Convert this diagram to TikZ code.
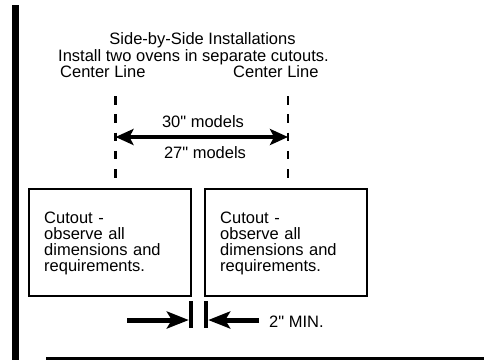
\documentclass[tikz,border=0pt]{standalone}
\usepackage{fontspec}
\setmainfont{Liberation Sans}[Ligatures=TeXOff]
\usetikzlibrary{arrows.meta}
\begin{document}
\begin{tikzpicture}[x=1pt,y=-1pt,
  txt/.style={font=\fontsize{16.5}{16}\selectfont, inner sep=0pt, anchor=base},
  boxtxt/.style={font=\fontsize{16.5}{16}\selectfont, inner sep=0pt, anchor=base west, align=left, text width=145pt},
  cutbox/.style={draw, line width=2.2pt},
  cline/.style={line width=2.6pt, dash pattern=on 8.5pt off 9.8pt},
  dimarrow/.style={line width=4pt, {Stealth[length=18pt,width=16pt,inset=4pt]}-{Stealth[length=18pt,width=16pt,inset=4pt]}},
  gaparrow/.style={line width=5pt, -{Stealth[length=22pt,width=17pt,inset=5pt]}},
  gapbar/.style={fill=black, inner sep=0pt, minimum width=4pt, minimum height=27pt},
  rule/.style={line width=2.6pt}]
\useasboundingbox (0,0) rectangle (484,360);
% frame rules
\draw[line width=7pt] (15.5,5) -- (15.5,360);
\coordinate (ruleA) at (46,358.7);
\coordinate (ruleB) at (484,358.7);
\draw[rule] (ruleA) -- (ruleB);
% titles
\node[txt] (title1) at (202.5,44) {Side-by-Side Installations};
\node[txt] (title2) at (193.5,61) {Install two ovens in separate cutouts.};
\node[txt, anchor=base west] (clabL) at (60,77) {Center Line};
\node[txt, anchor=base west] (clabR) at (233,77) {Center Line};
% center lines
\coordinate (clTL) at (115.5,96);
\coordinate (clBL) at (115.5,178);
\coordinate (clTR) at (288,96);
\coordinate (clBR) at (288,178);
\draw[cline] (clTL) -- (clBL);
\draw[cline] (clTR) -- (clBR);
\coordinate (dimL) at (115.5,137);
\coordinate (dimR) at (288,137);
\draw[dimarrow] (dimL) -- (dimR);
\node[txt] (m30) at (203,127) {30" models};
\node[txt] (m27) at (205,158) {27" models};
% cutout boxes
\draw[cutbox] (29,189) rectangle (191,296);
\draw[cutbox] (205,189) rectangle (367,296);
\node[boxtxt] (tL) at (44,223) {Cutout -\\observe all\\dimensions and\\requirements.};
\node[boxtxt] (tR) at (220,223) {Cutout -\\observe all\\dimensions and\\requirements.};
% 2" min
\node[gapbar] (barL) at (191,314.5) {};
\node[gapbar] (barR) at (206,314.5) {};
\coordinate (arrL) at (127,320);
\coordinate (arrR) at (259,320);
\draw[gaparrow] (arrL) -- (arrL -| barL.west);
\draw[gaparrow] (arrR) -- (arrR -| barR.east);
\node[txt, anchor=base west] (min) at (269,327) {2" MIN.};
\end{tikzpicture}
\end{document}
